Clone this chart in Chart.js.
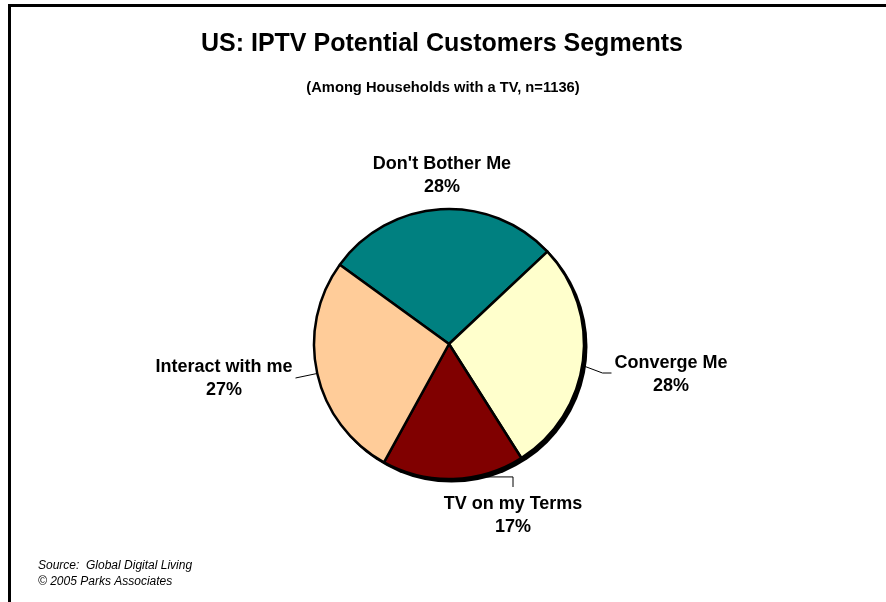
<!DOCTYPE html>
<html>
<head>
<meta charset="utf-8">
<script src="https://cdn.jsdelivr.net/npm/chart.js@4.4.0/dist/chart.umd.min.js"></script>
<style>
  body { margin: 0; background: #fff; }
  #wrap { position: relative; width: 886px; height: 602px; }
</style>
</head>
<body>
<div id="wrap"><canvas id="pieChart" width="886" height="602"></canvas></div>
<script>
  const segmentos = ["Don't Bother Me", "Converge Me", "TV on my Terms", "Interact with me"];
  const porcentajes = [28, 28, 17, 27];
  const colores = ["#008080", "#FFFFCC", "#800000", "#FFCC99"];

  const tituloTexto = "US: IPTV Potential Customers Segments";
  const subtituloTexto = "(Among Households with a TV, n=1136)";
  const fuenteTexto = ["Source:  Global Digital Living", "\u00A9 2005 Parks Associates"];

  const FONT = "'Liberation Sans', Arial, sans-serif";

  // label anchor relative to pie centre, plus leader style
  const etiquetas = [
    { dx: -7, dy: -169, leader: null },
    { dx: 222, dy: 30, leader: 'right', frac: 0.52 },
    { dx: 64, dy: 171, leader: 'below', frac: 0.33 },
    { dx: -225, dy: 34, leader: 'left', frac: 0.50 }
  ];

  const shadowPlugin = {
    id: 'shadowPlugin',
    beforeDatasetsDraw(chart) {
      const arc = chart.getDatasetMeta(0).data[0];
      if (!arc) return;
      const ctx = chart.ctx;
      ctx.save();
      ctx.fillStyle = '#000';
      ctx.beginPath();
      ctx.arc(arc.x + 2.5, arc.y + 2.5, arc.outerRadius + 1, 0, Math.PI * 2);
      ctx.fill();
      ctx.restore();
    }
  };

  const textPlugin = {
    id: 'textPlugin',
    afterDraw(chart) {
      const ctx = chart.ctx;
      ctx.save();
      // frame
      ctx.fillStyle = '#000';
      ctx.fillRect(8, 4, 3, 602);
      ctx.fillRect(8, 4, 878, 3);

      ctx.textAlign = 'center';
      ctx.textBaseline = 'middle';
      ctx.font = 'bold 25px ' + FONT;
      ctx.fillText(tituloTexto, 442, 44);
      ctx.font = 'bold 14.7px ' + FONT;
      ctx.fillText(subtituloTexto, 443, 88);

      ctx.textAlign = 'left';
      ctx.font = 'italic 12px ' + FONT;
      ctx.fillText(fuenteTexto[0], 38, 566);
      ctx.fillText(fuenteTexto[1], 38, 582);

      const meta = chart.getDatasetMeta(0);
      meta.data.forEach((arc, i) => {
        const cfg = etiquetas[i];
        const cx = arc.x, cy = arc.y;
        const lx = cx + cfg.dx, ly = cy + cfg.dy;
        ctx.font = 'bold 18px ' + FONT;
        ctx.textAlign = 'center';
        ctx.fillStyle = '#000';
        ctx.fillText(segmentos[i], lx, ly - 11);
        ctx.fillText(porcentajes[i] + '%', lx, ly + 12);

        if (!cfg.leader) return;
        const ang = arc.startAngle + cfg.frac * (arc.endAngle - arc.startAngle);
        const r = arc.outerRadius + 1;
        const px = cx + Math.cos(ang) * r, py = cy + Math.sin(ang) * r;
        const w = ctx.measureText(segmentos[i]).width;
        ctx.strokeStyle = '#000';
        ctx.lineWidth = 1;
        ctx.beginPath();
        ctx.moveTo(px, py);
        if (cfg.leader === 'right') {
          const ex = lx - w / 2 - 3;
          ctx.lineTo(ex - 9, ly - 1);
          ctx.lineTo(ex, ly - 1);
        } else if (cfg.leader === 'left') {
          const ex = lx + w / 2 + 3;
          ctx.lineTo(ex, ly);
        } else {
          ctx.lineTo(lx, py);
          ctx.lineTo(lx, ly - 28);
        }
        ctx.stroke();
      });
      ctx.restore();
    }
  };

  new Chart(document.getElementById('pieChart'), {
    type: 'pie',
    data: {
      labels: segmentos,
      datasets: [{
        data: porcentajes,
        backgroundColor: colores,
        borderColor: '#000',
        borderWidth: 2.5,
        radius: 135
      }]
    },
    options: {
      responsive: false,
      animation: false,
      rotation: -54,
      layout: { padding: { left: 12, right: 0, top: 150, bottom: 64 } },
      plugins: {
        legend: { display: false },
        tooltip: { enabled: false }
      }
    },
    plugins: [shadowPlugin, textPlugin]
  });
</script>
</body>
</html>
